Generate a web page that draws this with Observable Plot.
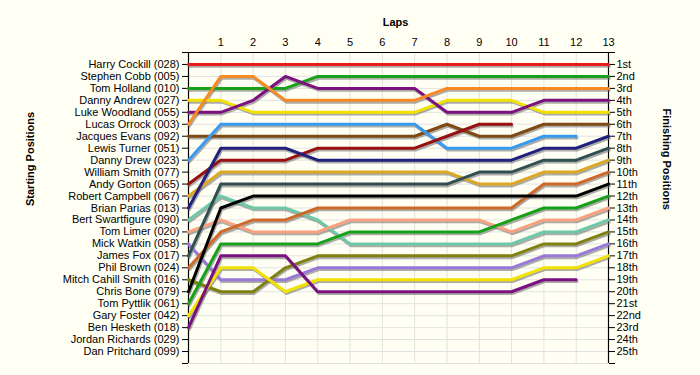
<!DOCTYPE html>
<html>
<head>
<meta charset="utf-8">
<script src="https://cdn.jsdelivr.net/npm/d3@7"></script>
<script src="https://cdn.jsdelivr.net/npm/@observablehq/plot@0.6"></script>
<style>
  html, body { margin: 0; padding: 0; background: #fffff4; }
</style>
</head>
<body>
<div id="chart"></div>
<script>
// ---- Data ----
const laps = [0, 1, 2, 3, 4, 5, 6, 7, 8, 9, 10, 11, 12, 13];
const lapTicks = [1, 2, 3, 4, 5, 6, 7, 8, 9, 10, 11, 12, 13];

const startNames = [
  "Harry Cockill (028)", "Stephen Cobb (005)", "Tom Holland (010)", "Danny Andrew (027)",
  "Luke Woodland (055)", "Lucas Orrock (003)", "Jacques Evans (092)", "Lewis Turner (051)",
  "Danny Drew (023)", "William Smith (077)", "Andy Gorton (065)", "Robert Campbell (067)",
  "Brian Parias (013)", "Bert Swartfigure (090)", "Tom Limer (020)", "Mick Watkin (058)",
  "James Fox (017)", "Phil Brown (024)", "Mitch Cahill Smith (016)", "Chris Bone (079)",
  "Tom Pyttlik (061)", "Gary Foster (042)", "Ben Hesketh (018)", "Jordan Richards (029)",
  "Dan Pritchard (099)"
];
const finishLabels = [
  "1st", "2nd", "3rd", "4th", "5th", "6th", "7th", "8th", "9th", "10th",
  "11th", "12th", "13th", "14th", "15th", "16th", "17th", "18th", "19th", "20th",
  "21st", "22nd", "23rd", "24th", "25th"
];
const positionTicks = [0, 1, 2, 3, 4, 5, 6, 7, 8, 9, 10, 11, 12, 13, 14, 15, 16, 17, 18, 19, 20, 21, 22, 23, 24, 25, 26];

// position per lap (lap 0 .. 13), null = retired
const harryCockill     = [1, 1, 1, 1, 1, 1, 1, 1, 1, 1, 1, 1, 1, 1];
const tomHolland       = [3, 3, 3, 3, 2, 2, 2, 2, 2, 2, 2, 2, 2, 2];
const dannyAndrew      = [4, 4, 5, 5, 5, 5, 5, 5, 4, 4, 4, 5, 5, 5];
const lukeWoodland     = [5, 5, 4, 2, 3, 3, 3, 3, 5, 5, 5, 4, 4, 4];
const lucasOrrock      = [6, 2, 2, 4, 4, 4, 4, 4, 3, 3, 3, 3, 3, 3];
const jacquesEvans     = [7, 7, 7, 7, 7, 7, 7, 7, 6, 7, 7, 6, 6, 6];
const dannyDrew        = [9, 6, 6, 6, 6, 6, 6, 6, 8, 8, 8, 7, 7, null];
const andyGorton       = [11, 9, 9, 9, 8, 8, 8, 8, 7, 6, 6, null, null, null];
const robertCampbell   = [12, 10, 10, 10, 10, 10, 10, 10, 10, 11, 11, 10, 10, 9];
const brianParias      = [13, 8, 8, 8, 9, 9, 9, 9, 9, 9, 9, 8, 8, 7];
const bertSwartfigure  = [14, 12, 13, 13, 14, 16, 16, 16, 16, 16, 16, 15, 15, 14];
const tomLimer         = [15, 14, 15, 15, 15, 14, 14, 14, 14, 14, 15, 14, 14, 13];
const mickWatkin       = [16, 19, 19, 19, 18, 18, 18, 18, 18, 18, 18, 17, 17, 16];
const jamesFox         = [17, 11, 11, 11, 11, 11, 11, 11, 11, 10, 10, 9, 9, 8];
const philBrown        = [18, 15, 14, 14, 13, 13, 13, 13, 13, 13, 13, 11, 11, 10];
const mitchCahillSmith = [19, 20, 20, 18, 17, 17, 17, 17, 17, 17, 17, 16, 16, 15];
const chrisBone        = [20, 13, 12, 12, 12, 12, 12, 12, 12, 12, 12, 12, 12, 11];
const tomPyttlik       = [21, 16, 16, 16, 16, 15, 15, 15, 15, 15, 14, 13, 13, 12];
const garyFoster       = [22, 18, 18, 20, 19, 19, 19, 19, 19, 19, 19, 18, 18, 17];
const benHesketh       = [23, 17, 17, 17, 20, 20, 20, 20, 20, 20, 20, 19, 19, null];

const seriesNames = [
  "Harry Cockill (028)", "Tom Holland (010)", "Danny Andrew (027)", "Luke Woodland (055)",
  "Lucas Orrock (003)", "Jacques Evans (092)", "Danny Drew (023)", "Andy Gorton (065)",
  "Robert Campbell (067)", "Brian Parias (013)", "Bert Swartfigure (090)", "Tom Limer (020)",
  "Mick Watkin (058)", "James Fox (017)", "Phil Brown (024)", "Mitch Cahill Smith (016)",
  "Chris Bone (079)", "Tom Pyttlik (061)", "Gary Foster (042)", "Ben Hesketh (018)"
];
const seriesValues = [
  harryCockill, tomHolland, dannyAndrew, lukeWoodland, lucasOrrock, jacquesEvans,
  dannyDrew, andyGorton, robertCampbell, brianParias, bertSwartfigure, tomLimer,
  mickWatkin, jamesFox, philBrown, mitchCahillSmith, chrisBone, tomPyttlik,
  garyFoster, benHesketh
];
const seriesColors = [
  "#e81c1c", "#18a018", "#f2e200", "#7b107f", "#f88a24", "#7f4a14",
  "#3a9aef", "#981010", "#dca824", "#20207f", "#6cc8a8", "#f8a282",
  "#9878d8", "#2f5050", "#d06828", "#808010", "#000000", "#18a018",
  "#f2e200", "#7b107f"
];

// ---- Build table ----
const rows = [];
seriesNames.forEach((name, i) => {
  seriesValues[i].forEach((p, j) => {
    if (p != null) rows.push({driver: name, lap: laps[j], pos: p});
  });
});

const font = "'Liberation Sans', Arial, sans-serif";

const chart = Plot.plot({
  width: 700,
  height: 375,
  marginLeft: 188,
  marginRight: 92,
  marginTop: 52,
  marginBottom: 12,
  style: {background: "#fffff4", fontFamily: font, fontSize: "11px", color: "#000", overflow: "visible"},
  x: {domain: [0, 13], axis: null},
  y: {domain: [26, 0], axis: null},
  color: {domain: seriesNames, range: seriesColors},
  marks: [
    Plot.gridX(laps, {stroke: "#e2e2e2", strokeOpacity: 1}),
    Plot.gridY(positionTicks, {stroke: "#e2e2e2", strokeOpacity: 1}),
    Plot.ruleY([0], {stroke: "#000", strokeWidth: 1.2}),
    Plot.ruleX([0], {stroke: "#000", strokeWidth: 1.2}),
    Plot.ruleX([13], {stroke: "#000", strokeWidth: 1.2}),
    Plot.axisX({anchor: "top", ticks: lapTicks, tickSize: 0, tickPadding: 7, label: null, fontSize: 11}),
    Plot.axisY({anchor: "left", ticks: positionTicks, tickSize: 6, tickPadding: 3, label: null,
      tickFormat: d => startNames[d - 1] ?? "", fontSize: 11}),
    Plot.axisY({anchor: "right", ticks: positionTicks, tickSize: 6, tickPadding: 2, label: null,
      tickFormat: d => finishLabels[d - 1] ?? "", fontSize: 11}),
    Plot.line(rows, {x: "lap", y: "pos", z: "driver", stroke: "#6a6a6a", strokeOpacity: 0.55,
      strokeWidth: 2.6, dx: 1, dy: 2}),
    Plot.line(rows, {x: "lap", y: "pos", z: "driver", stroke: "driver", strokeWidth: 3}),
    Plot.text(["Laps"], {text: d => d, frameAnchor: "top", dx: -3, dy: -34, fontWeight: "bold", fontSize: 11}),
    Plot.text(["Starting Positions"], {text: d => d, frameAnchor: "left", dx: -158, dy: -2, rotate: -90, fontWeight: "bold", fontSize: 11}),
    Plot.text(["Finishing Positions"], {text: d => d, frameAnchor: "right", dx: 58, dy: 2, rotate: 90, fontWeight: "bold", fontSize: 11})
  ]
});
document.getElementById("chart").appendChild(chart);
</script>
</body>
</html>
